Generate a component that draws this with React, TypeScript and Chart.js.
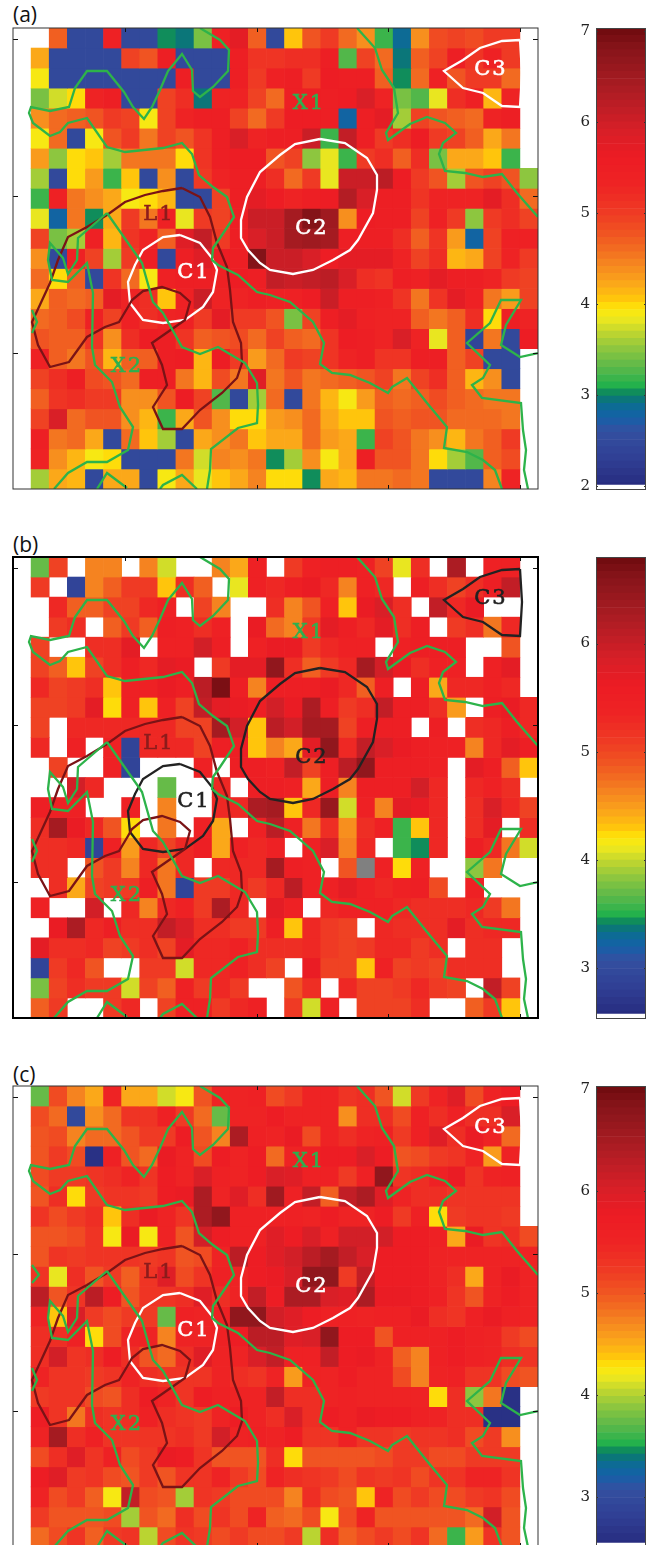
import React, { useEffect, useRef } from "react";
import { Chart, registerables } from "chart.js";

Chart.register(...registerables);

const _ = null;

// Cell values, rows top to bottom, columns 1..28 of the 29-column map (column 0 is empty everywhere).
// 0 marks the single grey cell in panel (b); null marks a white cell.
const panelA = [
  [_,4.7,2.5,2.5,5.4,2.5,2.5,3.05,2.95,3.4,5.4,5.7,4.7,2.5,4.05,4.8,5.0,4.6,4.4,3.2,2.85,4.35,4.85,4.95,4.85,5.0,5.0,_],
  [4.2,2.5,2.5,2.5,2.5,4.95,4.8,5.5,2.5,2.5,2.5,5.5,5.1,5.1,5.2,5.2,5.5,3.3,4.9,4.6,2.95,4.7,4.9,5.5,5.1,5.4,5.0,_],
  [3.9,2.5,2.5,2.5,2.5,2.5,2.5,2.5,5.5,2.5,2.5,5.5,5.0,5.4,5.5,5.0,5.6,5.5,5.5,4.7,3.05,4.6,5.4,4.8,5.0,5.0,4.6,_],
  [3.4,3.75,3.95,5.3,5.5,2.5,2.5,4.9,5.2,2.95,5.3,5.3,4.9,4.6,5.5,5.5,5.5,5.6,5.9,5.3,3.4,3.25,3.8,5.2,5.4,4.1,5.3,_],
  [4.4,4.65,4.7,4.8,5.0,4.9,3.9,4.9,5.3,5.5,5.5,4.9,4.6,5.0,5.6,5.6,5.5,2.8,5.5,5.7,3.55,4.9,4.8,4.7,4.6,5.3,5.5,_],
  [3.9,4.65,2.5,3.9,4.8,5.0,4.5,4.9,4.8,5.1,5.5,5.9,5.3,5.5,5.5,6.0,3.2,6.1,5.5,5.0,5.15,5.6,5.0,4.9,4.7,4.25,4.55,_],
  [4.3,3.5,4.0,4.05,3.55,4.55,4.55,4.55,3.98,5.1,5.5,5.6,5.6,4.8,4.9,3.5,3.8,3.2,5.0,5.2,4.7,5.2,3.4,4.25,4.2,4.05,3.15,_],
  [3.6,2.5,4.0,4.3,3.2,4.05,2.5,4.35,2.5,5.0,5.3,5.5,5.5,5.2,4.6,5.0,3.8,6.0,6.0,6.2,5.6,5.0,4.75,3.55,4.8,4.9,4.8,3.5],
  [3.2,5.4,4.5,4.35,4.2,3.9,4.0,4.1,2.5,2.5,4.95,5.5,5.7,5.6,5.3,5.5,5.6,6.3,5.9,5.5,5.5,5.1,5.3,5.3,5.3,5.7,5.2,4.6],
  [3.8,2.75,4.5,3.05,4.2,5.0,4.5,5.4,3.85,5.0,4.9,5.5,6.0,6.0,6.4,6.8,6.5,4.35,5.6,5.5,5.5,4.9,5.4,5.0,3.5,5.0,5.2,4.9],
  [4.9,3.4,3.55,5.4,4.1,5.1,5.3,4.7,5.8,6.1,5.0,5.5,5.9,6.0,6.4,6.5,6.4,5.5,5.5,5.5,5.2,4.7,5.1,4.3,2.8,4.9,5.4,5.4],
  [4.4,2.5,5.4,4.9,3.55,5.0,5.5,2.5,5.5,5.8,5.6,5.5,6.8,6.0,6.0,5.9,5.6,5.7,5.7,5.7,5.3,4.9,5.2,4.15,4.25,4.9,5.3,5.0],
  [4.6,3.95,4.7,2.5,5.1,4.6,3.9,5.4,5.5,5.5,5.4,5.6,5.5,6.1,6.0,6.1,6.2,5.9,5.2,5.1,5.5,5.4,5.7,5.5,5.5,5.3,5.0,4.9],
  [4.2,4.7,4.6,4.7,5.7,5.3,5.2,4.05,5.4,6.0,5.3,5.3,5.5,5.4,5.4,5.6,6.0,5.5,5.5,5.4,5.1,4.55,5.1,5.7,5.4,4.5,4.3,4.9],
  [4.6,4.7,4.85,5.4,4.9,5.4,5.2,5.3,5.4,5.0,5.7,5.0,5.0,4.8,3.4,4.95,5.5,5.7,5.4,5.3,5.3,4.7,4.5,4.7,5.2,4.0,5.5,5.3],
  [4.75,4.7,4.7,5.1,4.35,5.2,5.6,5.5,5.1,4.7,4.75,4.85,4.6,4.9,4.7,4.65,5.1,5.6,5.5,5.3,5.9,5.3,3.8,4.7,2.4,4.5,2.5,5.6],
  [5.4,4.7,4.5,4.75,4.1,4.7,4.7,5.5,5.6,4.1,5.6,5.0,4.3,4.65,5.0,4.9,5.1,5.3,5.5,5.1,5.1,5.5,5.5,4.7,4.9,2.5,2.5,_],
  [4.9,5.2,5.5,4.85,4.8,4.65,5.5,5.5,4.55,4.1,4.85,4.5,5.8,4.55,4.8,4.5,4.6,4.7,4.75,4.95,4.5,4.9,5.2,4.7,4.1,4.4,2.5,_],
  [4.7,5.1,5.2,5.0,5.0,4.35,4.35,4.8,5.6,4.95,3.25,2.5,3.55,4.6,2.5,4.5,4.1,3.9,4.3,4.7,4.65,4.7,4.85,4.7,4.6,4.55,4.55,_],
  [4.9,5.9,4.6,4.75,4.8,4.4,4.1,3.2,4.25,4.8,4.35,4.0,3.95,4.3,4.35,4.6,4.2,4.05,4.05,4.75,4.7,4.75,4.75,4.65,4.65,4.6,4.55,_],
  [5.5,4.5,4.65,4.2,2.5,4.6,4.05,3.55,2.5,4.25,4.4,4.5,4.05,4.2,4.2,4.65,4.3,4.2,3.2,4.9,4.75,4.55,4.35,4.15,4.55,4.7,5.0,_],
  [5.3,4.35,4.15,3.9,3.95,2.5,2.5,2.5,4.5,3.75,4.45,4.35,4.5,3.05,3.55,4.35,3.9,4.25,5.5,4.8,4.8,4.55,4.0,3.55,3.3,4.7,4.85,_],
  [3.55,4.2,4.1,2.5,4.2,4.25,2.5,3.9,4.25,3.8,4.05,4.2,4.45,3.95,4.0,3.05,4.2,4.1,4.55,4.55,4.65,4.5,2.5,2.5,2.5,4.45,5.3,_],
];

const panelB = [
  [3.7,5.0,_,4.6,4.6,_,4.65,4.05,_,_,4.6,4.4,5.4,_,5.1,5.4,5.5,5.5,5.4,5.0,4.1,5.2,_,6.2,_,5.4,5.4,_],
  [5.1,_,2.9,4.65,4.8,5.1,5.1,4.3,5.2,4.85,_,4.1,5.4,5.3,5.5,5.6,5.3,4.65,5.4,5.3,_,5.5,5.2,5.0,5.2,5.5,6.0,_],
  [_,5.3,4.8,4.85,5.0,5.0,5.3,5.4,_,5.0,4.65,_,_,5.2,4.6,4.9,5.4,4.3,5.6,5.8,5.2,_,6.0,5.3,5.6,_,_,_],
  [_,5.1,5.2,_,4.8,5.1,4.85,5.5,5.4,5.2,5.4,_,5.6,4.75,4.65,5.1,5.7,5.5,5.3,5.7,5.2,5.5,_,5.1,5.2,4.7,5.3,_],
  [5.0,_,_,5.2,5.2,5.7,_,5.4,5.4,5.9,5.5,_,5.4,5.6,5.6,5.1,5.3,5.4,5.4,_,5.4,5.5,5.5,5.5,_,_,4.9,_],
  [5.0,4.8,4.3,5.0,5.2,5.5,5.3,5.7,5.6,_,5.1,5.7,5.7,6.5,5.2,4.8,5.1,5.3,6.3,5.9,5.6,5.2,5.4,5.4,_,5.4,5.7,_],
  [5.3,5.0,5.1,5.2,4.3,5.4,5.4,5.6,5.5,6.1,6.7,5.5,4.65,5.5,5.5,5.5,5.6,5.3,4.8,5.5,_,5.5,4.4,5.3,5.3,5.4,5.3,_],
  [5.0,5.0,5.1,5.7,4.2,5.4,4.3,5.4,5.0,6.0,5.7,5.6,5.5,5.9,5.6,6.2,5.5,5.1,5.2,6.0,5.5,5.5,5.2,4.5,_,5.5,5.6,5.3],
  [5.0,_,5.3,5.3,5.3,5.3,5.3,5.3,5.0,5.0,6.3,5.9,4.3,6.1,5.9,6.3,6.3,5.0,5.5,5.5,5.5,_,5.5,_,5.2,5.3,5.5,5.3],
  [5.3,_,5.4,_,5.4,2.9,5.3,5.3,5.3,5.0,5.5,5.5,4.3,4.65,4.4,5.7,6.5,5.3,6.0,5.8,5.6,5.5,5.4,5.4,4.65,5.3,5.7,5.5],
  [_,5.0,_,_,5.4,2.9,_,_,_,5.4,_,5.5,5.5,5.4,6.0,5.0,5.5,6.1,6.5,5.5,5.5,5.5,5.4,_,5.7,5.5,4.8,4.3],
  [_,_,5.9,5.3,_,_,_,3.7,_,_,5.3,_,5.5,5.5,5.4,4.4,5.5,4.65,5.5,5.5,5.5,5.9,5.3,_,5.3,5.4,5.2,_],
  [5.5,5.4,5.4,_,_,5.4,_,4.6,_,_,5.3,5.3,6.2,6.3,4.3,5.3,6.4,4.0,5.4,4.65,5.7,5.6,5.3,_,5.2,5.8,5.3,5.0],
  [5.2,6.3,5.6,5.3,4.9,4.2,_,4.7,_,5.4,4.4,_,5.4,6.1,5.4,4.7,5.2,4.55,5.2,5.4,3.55,4.3,5.3,_,5.2,5.7,_,5.2],
  [5.2,5.2,5.3,2.9,5.4,4.5,5.3,5.0,5.3,5.5,4.4,5.4,5.3,5.4,_,5.4,5.8,4.6,5.3,_,3.55,3.4,5.3,_,5.5,5.3,4.7,4.0],
  [5.2,5.2,_,4.9,5.1,4.6,5.3,4.7,5.3,_,5.3,5.3,5.3,6.3,5.5,5.4,_,4.9,0,5.4,4.2,5.4,_,_,3.8,4.7,_,_],
  [_,5.2,4.4,5.0,5.1,5.1,5.5,4.7,2.9,5.1,5.1,5.3,5.1,5.3,6.1,5.4,5.4,5.7,5.4,5.3,5.4,5.5,4.95,_,5.4,_,_,_],
  [5.4,_,_,5.9,_,5.3,4.65,5.3,5.4,5.1,6.2,5.3,_,5.7,5.4,_,5.3,5.4,5.4,5.4,5.3,5.2,5.2,5.2,5.3,5.1,4.7,_],
  [_,5.6,6.2,5.3,5.5,5.2,5.2,6.0,5.8,5.2,5.2,5.1,5.1,5.5,4.3,5.3,5.1,5.0,_,5.3,5.2,5.2,5.2,5.7,5.2,5.3,5.3,_],
  [5.7,5.2,5.2,5.3,5.0,5.1,5.2,5.0,5.7,5.3,5.3,5.4,5.2,5.2,5.2,5.3,5.1,5.0,5.1,5.3,5.3,5.1,5.2,_,5.2,5.2,_,_],
  [2.9,5.1,5.3,4.9,_,_,5.1,5.1,4.0,5.3,5.3,5.4,5.2,5.0,_,5.6,5.0,5.0,4.3,5.4,5.0,5.1,5.0,5.2,5.2,5.2,_,_],
  [3.75,5.0,5.2,5.1,5.1,4.0,5.0,4.8,5.4,5.1,5.3,5.1,_,_,4.9,5.2,_,5.3,5.0,5.0,5.1,5.3,5.1,5.0,_,6.0,5.0,_],
  [4.85,5.1,_,_,5.1,5.3,_,5.0,5.4,5.4,5.1,5.3,5.4,_,5.1,4.0,5.4,_,5.0,5.0,5.0,5.2,_,_,4.8,5.1,4.3,_],
];

const panelC = [
  [3.75,5.1,4.75,4.5,5.5,4.55,4.5,4.1,4.2,5.0,5.5,5.5,5.6,5.1,5.2,5.5,5.5,5.3,5.4,5.0,4.1,5.2,5.5,5.9,5.1,5.5,5.7,_],
  [5.1,4.85,2.95,4.65,4.85,5.3,5.3,5.6,5.2,4.9,3.75,5.5,5.5,5.7,5.5,5.5,5.5,4.65,5.4,5.4,5.1,5.6,5.4,5.6,5.4,5.4,6.0,_],
  [5.0,5.1,4.75,4.85,4.85,5.0,5.2,5.2,5.7,5.0,4.7,6.4,5.6,5.5,5.8,5.1,5.5,5.4,5.5,5.6,5.2,5.6,5.9,5.4,5.8,5.5,4.9,_],
  [5.0,5.2,5.1,2.6,5.6,5.0,4.85,5.8,5.5,5.1,5.7,5.5,5.7,4.85,5.5,5.6,5.7,5.7,6.0,5.7,5.0,5.1,5.2,5.3,5.5,4.6,5.5,_],
  [5.1,5.2,5.2,5.3,5.4,5.5,5.3,5.7,5.5,6.0,5.6,5.5,5.7,6.0,5.9,5.6,5.6,5.2,5.6,6.7,5.3,5.4,5.6,5.8,5.3,5.5,5.6,_],
  [5.0,5.4,4.3,5.2,5.3,5.3,5.2,5.7,5.8,6.4,5.5,5.9,5.4,6.6,5.6,6.2,4.95,6.2,6.4,5.9,5.5,5.4,5.4,5.3,5.3,5.3,5.3,_],
  [5.3,5.1,5.2,5.4,4.35,5.4,5.8,5.5,5.3,6.4,6.7,5.6,5.6,5.6,5.6,5.5,5.7,5.5,5.5,5.7,5.2,5.6,4.3,5.2,5.3,5.3,5.2,_],
  [5.0,5.0,5.1,5.3,4.2,5.8,4.25,5.5,5.0,6.1,5.7,5.6,5.6,5.9,5.7,6.0,5.6,6.1,6.1,6.1,5.7,5.7,5.6,4.55,5.8,5.3,5.4,5.1],
  [5.0,5.3,5.2,5.3,5.3,5.3,5.2,5.3,5.0,5.1,5.5,6.3,5.7,5.9,6.1,6.3,6.5,6.2,6.0,5.7,5.7,5.7,5.5,5.5,5.5,5.5,5.5,5.5],
  [5.3,4.15,5.4,5.0,5.2,4.95,5.3,5.9,5.1,5.3,5.6,5.5,5.7,5.8,6.0,6.7,6.7,5.2,6.2,5.7,5.7,5.7,5.5,5.4,4.5,5.5,5.8,5.5],
  [6.3,5.0,5.3,6.3,5.7,5.0,5.3,5.3,5.4,5.9,5.4,5.5,6.2,5.7,6.4,6.4,6.0,5.9,6.4,5.8,5.8,5.7,5.6,5.3,5.0,5.5,5.7,5.5],
  [5.5,4.4,6.0,5.2,5.1,5.2,5.2,3.75,5.6,5.5,5.6,6.7,6.7,6.1,5.9,5.7,5.6,5.6,5.5,5.6,5.6,5.8,5.4,5.3,5.6,5.8,5.6,5.5],
  [5.4,5.4,5.6,4.3,5.1,5.5,5.5,4.75,5.5,5.5,5.6,5.7,6.3,6.3,5.9,6.0,6.7,5.7,5.7,5.0,5.6,5.6,5.6,5.7,5.6,5.5,5.2,5.1],
  [5.4,6.1,5.3,5.4,5.7,5.4,5.0,4.9,5.4,5.9,5.5,5.5,6.0,6.2,5.6,5.6,6.2,5.7,5.8,5.5,4.95,4.75,5.6,5.7,5.6,5.5,5.4,5.3],
  [5.5,5.3,5.3,5.2,5.3,5.5,5.4,5.3,5.3,5.3,5.5,5.4,5.3,5.5,4.6,5.5,5.5,5.7,5.5,5.5,5.1,4.75,5.5,5.6,5.3,5.3,5.1,5.0],
  [5.2,5.3,5.3,5.1,5.0,5.4,5.7,5.5,5.3,5.7,5.6,5.5,5.5,6.2,5.4,5.4,5.5,5.6,5.5,5.5,5.5,5.5,4.3,5.4,3.9,4.8,2.6,_],
  [5.7,5.3,4.8,5.4,5.3,5.4,5.6,5.4,5.3,5.2,5.5,5.7,5.5,5.4,6.0,5.4,5.7,5.6,5.8,5.7,5.7,5.6,5.5,5.4,5.4,2.6,2.6,_],
  [5.5,6.5,5.4,5.6,5.3,5.3,5.3,5.3,5.4,5.2,6.1,5.5,5.6,5.5,5.7,5.3,5.3,5.6,5.3,5.3,5.2,5.3,5.3,5.4,5.1,5.2,4.65,_],
  [5.1,5.4,5.9,5.3,5.6,5.1,5.2,5.8,5.7,5.3,5.0,5.0,5.0,5.4,4.3,5.0,5.0,5.0,5.0,5.1,5.2,5.2,5.1,5.1,5.2,5.2,5.2,_],
  [5.7,5.9,5.2,5.3,5.1,5.0,5.2,5.0,5.3,5.3,5.5,5.2,5.1,5.5,5.4,5.3,5.2,5.1,5.3,5.2,5.3,5.1,5.3,5.3,5.5,5.5,5.3,_],
  [5.5,5.1,5.2,4.95,4.2,6.2,5.1,5.0,3.95,5.3,5.2,5.1,5.1,5.1,4.75,5.4,5.1,5.0,4.35,5.5,5.1,5.2,5.1,5.1,5.2,5.3,5.1,_],
  [5.2,5.0,5.0,5.0,5.1,3.95,5.0,4.9,5.4,5.1,5.3,5.1,5.5,4.95,4.85,5.1,4.2,5.1,5.5,5.0,5.0,5.0,5.0,5.0,4.9,6.1,5.0,_],
  [4.85,5.1,5.3,4.95,5.2,5.3,4.0,5.1,5.3,5.2,5.1,5.2,5.1,5.1,5.2,4.0,5.4,4.95,5.1,5.2,5.1,5.3,4.9,3.6,4.6,5.3,5.0,_],
];

type Pt = [number, number];
// Contours, in map units (x 0..525, y 0..461 from the top).
const contourX1: Pt[] = [[187,0],[207,12],[216,22],[215,43],[200,59],[187,69],[180,63],[179,42],[169,26],[155,43],[147,62],[139,79],[131,91],[120,79],[111,64],[94,43],[74,43],[62,60],[56,79],[37,83],[18,79],[16,85],[20,95],[37,108],[47,104],[55,95],[74,90],[94,119],[112,124],[150,120],[169,115],[179,126],[186,147],[200,159],[214,169],[221,189],[207,210],[200,220],[199,232],[205,237],[225,247],[244,264],[257,267],[277,274],[300,294],[311,315],[307,336],[319,345],[337,347],[357,355],[375,365],[379,359],[394,350],[414,375],[434,399],[431,420],[454,424],[470,432],[482,442],[489,461]];
const contourX1b: Pt[] = [[344,0],[362,20],[369,42],[381,60],[385,85],[373,105],[375,112],[397,96],[414,89],[432,95],[443,105],[430,115],[426,126],[432,143],[452,145],[470,149],[489,146],[504,165],[525,189]];
const contourX1c: Pt[] = [[525,325],[507,329],[488,317],[493,297],[508,272],[488,272],[477,295],[454,315],[477,337],[470,350],[459,357],[469,370],[508,375],[510,402],[513,422],[511,442],[515,461]];
const contourX2a: Pt[] = [[94,185],[65,210],[64,232],[55,246],[50,230],[37,215],[35,232],[39,252],[55,254],[74,235],[80,265],[79,319],[82,337],[99,354],[107,379],[120,399],[115,422],[94,434],[74,434],[55,445],[41,461]];
const contourX2b: Pt[] = [[94,185],[127,232],[129,235],[140,274],[150,285],[169,319],[187,326],[205,319],[232,335],[244,355],[245,377],[244,395],[225,400],[198,421],[197,442],[194,461]];
const contourX2c: Pt[] = [[84,461],[94,445],[114,460]];
const contourX2d: Pt[] = [[147,461],[150,457],[169,447],[184,461]];
const contourX2e: Pt[] = [[19,282],[24,294],[19,305]];
const contourX2f: Pt[] = [[19,179],[26,189],[19,197]];
const contourL1: Pt[] = [[169,160],[150,163],[132,167],[112,174],[94,187],[74,199],[55,209],[45,232],[37,255],[19,294],[25,317],[37,339],[56,334],[74,309],[92,299],[106,294],[115,279],[119,272],[130,263],[149,259],[167,265],[177,274],[172,292],[139,315],[149,337],[154,357],[140,379],[150,401],[169,401],[187,382],[209,365],[224,350],[229,335],[228,315],[220,294],[217,262],[214,239],[207,222],[204,215],[197,189],[187,169],[169,160]];
const contourC1: Pt[] = [[167,207],[150,209],[130,222],[122,237],[115,254],[117,275],[130,292],[150,295],[172,292],[190,279],[200,264],[204,242],[199,230],[187,215],[167,207]];
const contourC2: Pt[] = [[307,111],[282,116],[267,127],[247,144],[234,169],[228,192],[228,210],[235,222],[247,235],[257,242],[280,246],[300,242],[320,232],[337,222],[345,212],[360,185],[364,162],[364,147],[354,130],[332,115],[307,111]];
const contourC3: Pt[] = [[507,12],[489,13],[467,20],[450,32],[431,43],[450,60],[470,65],[489,78],[507,79],[509,45],[507,12]];

const regionNames = ["C1", "C2", "C3", "X1", "X2", "L1"];
const regionSpots: Pt[] = [[181,245],[299,201],[478,42],[296,76],[114,339],[146,187]];

const xTicks = [112, 243.5, 375, 506.5];
const yTicks = [11, 168, 325];

// Colour ramp of the colour bars: position on panel (a)'s bar, colour.
const rampValues = [1.956, 2.3, 2.6, 2.75, 2.9, 3.0, 3.1, 3.3, 3.5, 3.7, 3.85, 3.95, 4.05, 4.2, 4.4, 4.6, 4.8, 5.0, 5.3, 5.6, 5.9, 6.1, 6.4, 6.8, 7.03];
const rampColours = ["#262a7c","#303f95","#3450a0","#1560a8","#0b6e90","#0a8060","#22b14c","#5cb84a","#8cc63f","#c5d82e","#f2ea1c","#fde50a","#ffc60b","#fbaa19","#f68b1f","#f26c21","#f05022","#ef3b24","#ee2424","#ed1c24","#d81f27","#c41e26","#a81c22","#87141a","#6e0a0e"];

const COLS = 29;
const ROWS = 23;
const MAP_W = 525;
const MAP_H = 461;
const LEVELS = 64;
const BAR_FLOOR = 0.012;

function hex(c: string) {
  return [1, 3, 5].map((i) => parseInt(c.slice(i, i + 2), 16));
}

function rampColour(f: number) {
  const q = Math.min(LEVELS - 1, Math.max(0, Math.floor(f * LEVELS)));
  const t = (q + 0.5) / LEVELS;
  const v = rampValues[0] + t * (rampValues[rampValues.length - 1] - rampValues[0]);
  let i = 0;
  while (i < rampValues.length - 2 && rampValues[i + 1] < v) i++;
  const k = (v - rampValues[i]) / (rampValues[i + 1] - rampValues[i]);
  const a = hex(rampColours[i]);
  const b = hex(rampColours[i + 1]);
  const m = a.map((x, j) => Math.round(x + (b[j] - x) * Math.max(0, Math.min(1, k))));
  return `rgb(${m[0]},${m[1]},${m[2]})`;
}

const toPoints = (c: Pt[]) => c.map(([x, y]) => ({ x, y }));

function lineSet(c: Pt[], colour: string) {
  return {
    type: "line",
    data: toPoints(c),
    borderColor: colour,
    borderWidth: 2.3,
    pointRadius: 0,
    tension: 0,
    fill: false,
    order: 0,
  };
}

const mapDecor = (frameColour: string, frameWidth: number, cColour: string) => ({
  id: "mapDecor",
  afterDatasetsDraw(chart: any) {
    const { ctx, chartArea: a, scales } = chart;
    const sx = scales.x;
    const sy = scales.y;
    ctx.save();
    ctx.strokeStyle = "#111";
    ctx.lineWidth = 1;
    ctx.beginPath();
    xTicks.forEach((t) => {
      const p = Math.round(sx.getPixelForValue(t)) + 0.5;
      ctx.moveTo(p, a.top);
      ctx.lineTo(p, a.top + 4);
      ctx.moveTo(p, a.bottom);
      ctx.lineTo(p, a.bottom - 4);
    });
    yTicks.forEach((t) => {
      const p = Math.round(sy.getPixelForValue(t)) + 0.5;
      ctx.moveTo(a.left, p);
      ctx.lineTo(a.left + 5, p);
      ctx.moveTo(a.right, p);
      ctx.lineTo(a.right - 5, p);
    });
    ctx.stroke();
    ctx.strokeStyle = frameColour;
    ctx.lineWidth = frameWidth;
    ctx.strokeRect(a.left, a.top, a.right - a.left, a.bottom - a.top);
    ctx.font = '21px "DejaVu Serif"';
    (ctx as any).letterSpacing = "2px";
    ctx.textAlign = "center";
    ctx.textBaseline = "middle";
    ctx.lineWidth = 0.6;
    regionNames.forEach((name, i) => {
      const [x, y] = regionSpots[i];
      const colour = name[0] === "C" ? cColour : name[0] === "L" ? "#8c1c1c" : "#2eb04f";
      ctx.fillStyle = colour;
      ctx.strokeStyle = colour;
      ctx.fillText(name, sx.getPixelForValue(x), sy.getPixelForValue(y));
      ctx.strokeText(name, sx.getPixelForValue(x), sy.getPixelForValue(y));
    });
    ctx.restore();
  },
});

function Heatmap({ top, rows, range, frame, frameWidth, cColour, extra }: any) {
  const ref = useRef<HTMLCanvasElement>(null);
  useEffect(() => {
    const cellW = MAP_W / COLS;
    const cellH = MAP_H / ROWS;
    const cellSets = rows.map((row: (number | null)[], r: number) => {
      const data: any[] = [];
      const colours: string[] = [];
      row.forEach((v, c) => {
        if (v === null) return;
        data.push({ x: (c + 1.5) * cellW, y: [r * cellH, (r + 1) * cellH] });
        colours.push(v === 0 ? "#808080" : rampColour((v - range[0]) / (range[1] - range[0])));
      });
      return {
        type: "bar",
        data,
        backgroundColor: colours,
        borderWidth: 0,
        barPercentage: 1,
        categoryPercentage: 1,
        grouped: false,
        order: 1,
      };
    });
    const green = "#2db34a";
    const lines = [
      lineSet(contourX1, green),
      lineSet(contourX1b, green),
      lineSet(contourX1c, green),
      lineSet(contourX2a, green),
      lineSet(contourX2b, green),
      lineSet(contourX2c, green),
      lineSet(contourX2d, green),
      lineSet(contourX2e, green),
      lineSet(contourL1, "#7a1316"),
      lineSet(contourC1, cColour),
      lineSet(contourC2, cColour),
      lineSet(contourC3, cColour),
    ];
    if (extra) lines.push(lineSet(contourX2f, green));
    const chart = new Chart(ref.current as any, {
      type: "bar",
      data: { datasets: [...lines, ...cellSets] as any },
      options: {
        animation: false,
        responsive: false,
        layout: { padding: 10 },
        plugins: { legend: { display: false }, tooltip: { enabled: false } },
        scales: {
          x: { type: "linear", min: 0, max: MAP_W, offset: false, display: false },
          y: { type: "linear", min: 0, max: MAP_H, reverse: true, display: false },
        },
      },
      plugins: [mapDecor(frame, frameWidth, cColour)],
    } as any);
    return () => chart.destroy();
  }, []);
  return (
    <canvas
      ref={ref}
      width={545}
      height={481}
      style={{ position: "absolute", left: 3, top: top - 10, display: "block" }}
    />
  );
}

function ColourBar({ top, range, ticks, frameColour }: any) {
  const ref = useRef<HTMLCanvasElement>(null);
  useEffect(() => {
    const span = range[1] - range[0];
    const sets = Array.from({ length: LEVELS }, (_unused, i) => {
      const f0 = Math.max(BAR_FLOOR, i / LEVELS);
      const f1 = (i + 1) / LEVELS;
      return {
        data: [[range[0] + f0 * span, range[0] + f1 * span]],
        backgroundColor: rampColour((i + 0.5) / LEVELS),
        borderWidth: 0,
        barPercentage: 1,
        categoryPercentage: 1,
        grouped: false,
      };
    });
    const chart = new Chart(ref.current as any, {
      type: "bar",
      data: { labels: ["z"], datasets: sets as any },
      options: {
        animation: false,
        responsive: false,
        layout: { padding: { top: 10, bottom: 10, right: 11, left: 0 } },
        plugins: { legend: { display: false }, tooltip: { enabled: false } },
        scales: {
          x: { display: false },
          y: {
            type: "linear",
            min: range[0],
            max: range[1],
            afterFit: (s: any) => {
              s.width = 36;
              s.paddingTop = 0;
              s.paddingBottom = 0;
            },
            afterBuildTicks: (s: any) => {
              s.ticks = ticks.map((value: number) => ({ value }));
            },
            grid: { display: false, drawTicks: false },
            border: { display: false },
            ticks: {
              padding: 6,
              color: "#222",
              font: { family: '"DejaVu Serif"', size: 15 },
              callback: (v: any) => String(v),
            },
          },
        },
      },
      plugins: [
        {
          id: "barFrame",
          afterDatasetsDraw(c: any) {
            const { ctx, chartArea: a, scales } = c;
            ctx.save();
            ctx.strokeStyle = "#333";
            ctx.lineWidth = 1;
            ctx.beginPath();
            ticks.forEach((t: number) => {
              const p = Math.round(scales.y.getPixelForValue(t)) + 0.5;
              ctx.moveTo(a.left, p);
              ctx.lineTo(a.left + 2, p);
              ctx.moveTo(a.right, p);
              ctx.lineTo(a.right - 2, p);
            });
            ctx.stroke();
            ctx.strokeStyle = frameColour;
            ctx.strokeRect(a.left + 0.5, a.top + 0.5, a.right - a.left - 1, a.bottom - a.top - 1);
            ctx.restore();
          },
        },
      ],
    } as any);
    return () => chart.destroy();
  }, []);
  return (
    <canvas
      ref={ref}
      width={97}
      height={482}
      style={{ position: "absolute", left: 560, top: top - 10, display: "block" }}
    />
  );
}

const panelLabel = (text: string, top: number) => (
  <div
    style={{
      position: "absolute",
      left: 13,
      top,
      font: '21px "Open Sans"',
      lineHeight: "26px",
      color: "#111",
    }}
  >
    {text}
  </div>
);

export default function App() {
  return (
    <div
      style={{
        position: "absolute",
        left: 0,
        top: 0,
        width: 657,
        height: 1545,
        overflow: "hidden",
        background: "#fff",
      }}
    >
      {panelLabel("(a)", 1)}
      {panelLabel("(b)", 531)}
      {panelLabel("(c)", 1061)}
      <Heatmap top={28} rows={panelA} range={[1.956, 7.03]} frame="#333" frameWidth={1} cColour="#ffffff" />
      <Heatmap top={557} rows={panelB} range={[2.53, 6.8]} frame="#000" frameWidth={2} cColour="#222222" />
      <Heatmap top={1086} rows={panelC} range={[2.5, 7.03]} frame="#333" frameWidth={1} cColour="#ffffff" extra />
      <ColourBar top={28} range={[1.956, 7.03]} ticks={[2, 3, 4, 5, 6, 7]} frameColour="#444" />
      <ColourBar top={557} range={[2.53, 6.8]} ticks={[3, 4, 5, 6]} frameColour="#444" />
      <ColourBar top={1086} range={[2.5, 7.03]} ticks={[3, 4, 5, 6, 7]} frameColour="#444" />
    </div>
  );
}
